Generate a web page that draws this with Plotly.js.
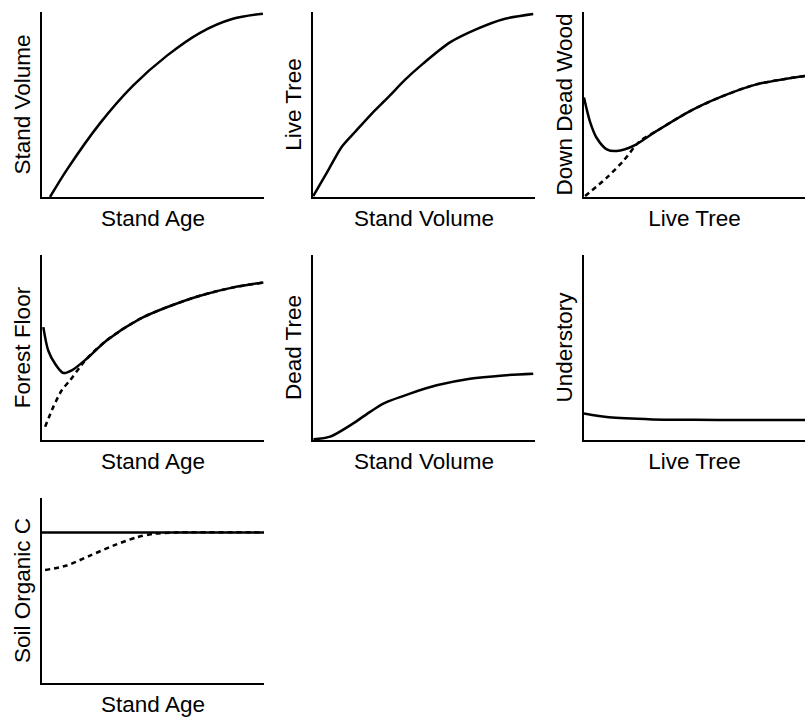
<!DOCTYPE html>
<html>
<head>
<meta charset="utf-8">
<script src="https://cdn.plot.ly/plotly-3.0.1.min.js"></script>
<style>html,body{margin:0;padding:0;background:#fff;}#chart{width:809px;height:717px;}</style>
</head>
<body>
<div id="chart"></div>
<script>
// Panel titles
const xTitles = ["Stand Age", "Stand Volume", "Live Tree", "Stand Age", "Stand Volume", "Live Tree", "Stand Age"];
const yTitles = ["Stand Volume", "Live Tree", "Down Dead Wood", "Forest Floor", "Dead Tree", "Understory", "Soil Organic C"];

// Panel 1: Stand Volume vs Stand Age
const standVolX = [3.6, 11.1, 26.1, 41.0, 56.3, 71.2, 86.0, 99.5];
const standVolY = [0, 14.6, 40.0, 60.5, 76.8, 89.2, 96.8, 99.6];

// Panel 2: Live Tree vs Stand Volume
const liveTreeX = [0.1, 6.9, 12.9, 18.9, 26.4, 33.9, 41.4, 49.7, 61.7, 73.7, 85.7, 99.2];
const liveTreeY = [0.5, 14.6, 27.2, 35.3, 45.2, 54.2, 63.6, 72.6, 84.0, 91.2, 96.6, 99.4];

// Panel 3: Down Dead Wood vs Live Tree (solid and dashed)
const ddwSolidX = [0, 2.7, 5.7, 10.3, 14.8, 22.3, 32.9, 48.0, 63.0, 78.0, 100];
const ddwSolidY = [54.0, 41.0, 32.2, 25.9, 25.0, 27.7, 35.9, 46.7, 54.9, 61.2, 65.8];
const ddwDashX = [0.5, 10.3, 17.8, 25.3, 32.9, 48.0, 63.0, 78.0, 100];
const ddwDashY = [0.5, 10.5, 19.6, 30.4, 35.9, 46.7, 54.9, 61.2, 65.8];

// Panel 4: Forest Floor vs Stand Age (solid and dashed)
const ffSolidX = [0.6, 2.8, 5.9, 9.6, 13.4, 20.1, 29.1, 44.1, 56.2, 71.2, 86.2, 99.7];
const ffSolidY = [61.3, 48.6, 41.4, 36.4, 37.8, 44.1, 54.1, 65.8, 72.1, 78.4, 82.9, 85.6];
const ffDashX = [1.4, 5.1, 8.9, 12.6, 17.1, 20.1, 29.1, 44.1, 56.2, 71.2, 86.2, 99.7];
const ffDashY = [7.2, 18.0, 27.0, 32.4, 39.6, 44.1, 54.1, 65.8, 72.1, 78.4, 82.9, 85.6];

// Panel 5: Dead Tree vs Stand Volume
const deadTreeX = [0.2, 7.7, 18.1, 25.7, 31.7, 43.7, 55.7, 70.7, 85.7, 99.2];
const deadTreeY = [0.4, 1.8, 9.0, 15.3, 19.8, 25.2, 29.7, 33.3, 35.1, 36.0];

// Panel 6: Understory vs Live Tree
const underX = [0, 11.3, 31.0, 50.0, 70.0, 100];
const underY = [14.4, 12.3, 11.2, 11.0, 10.8, 10.8];

// Panel 7: Soil Organic C vs Stand Age (solid and dashed)
const socSolidX = [0, 100];
const socSolidY = [81.8, 81.8];
const socDashX = [1.4, 11.1, 21.6, 32.1, 42.6, 50.1, 60.0, 100];
const socDashY = [61.4, 63.8, 69.2, 74.6, 79.1, 81.0, 81.8, 81.8];

const W = 809, H = 717;
const colsPx = [[42, 264], [313, 535], [584, 805]];
const rowsPx = [[12, 197], [255, 440], [498, 683]];

const solid = {color: "#000", width: 2.5, shape: "spline", smoothing: 0.8};
const dashed = {color: "#000", width: 2.5, shape: "spline", smoothing: 0.8, dash: "5px,4px"};

const series = [
  [[standVolX, standVolY, solid]],
  [[liveTreeX, liveTreeY, solid]],
  [[ddwDashX, ddwDashY, dashed], [ddwSolidX, ddwSolidY, solid]],
  [[ffDashX, ffDashY, dashed], [ffSolidX, ffSolidY, solid]],
  [[deadTreeX, deadTreeY, solid]],
  [[underX, underY, solid]],
  [[socDashX, socDashY, dashed], [socSolidX, socSolidY, solid]]
];

const font = {family: "Liberation Sans, Arial, sans-serif", size: 22.5, color: "#000"};
const traces = [];
const layout = {
  width: W, height: H,
  margin: {l: 0, r: 0, t: 0, b: 0},
  paper_bgcolor: "#fff", plot_bgcolor: "#fff",
  showlegend: false,
  font: font
};

series.forEach((list, i) => {
  const r = Math.floor(i / 3), c = i % 3;
  const n = i + 1;
  const sfx = n === 1 ? "" : String(n);
  list.forEach(s => {
    traces.push({x: s[0], y: s[1], type: "scatter", mode: "lines", line: s[2],
      xaxis: "x" + sfx, yaxis: "y" + sfx, hoverinfo: "skip"});
  });
  const ax = {
    showline: true, linewidth: 2, linecolor: "#000", showgrid: false, zeroline: false,
    ticks: "", showticklabels: false, fixedrange: true
  };
  layout["xaxis" + sfx] = Object.assign({}, ax, {
    domain: [colsPx[c][0] / W, colsPx[c][1] / W], range: [0, 100],
    anchor: "y" + sfx,
    title: {text: xTitles[i], font: font, standoff: 12}
  });
  layout["yaxis" + sfx] = Object.assign({}, ax, {
    domain: [1 - rowsPx[r][1] / H, 1 - rowsPx[r][0] / H], range: [0, 100.5],
    anchor: "x" + sfx,
    title: {text: yTitles[i], font: font, standoff: 3}
  });
});

Plotly.newPlot("chart", traces, layout, {staticPlot: true});
</script>
</body>
</html>
